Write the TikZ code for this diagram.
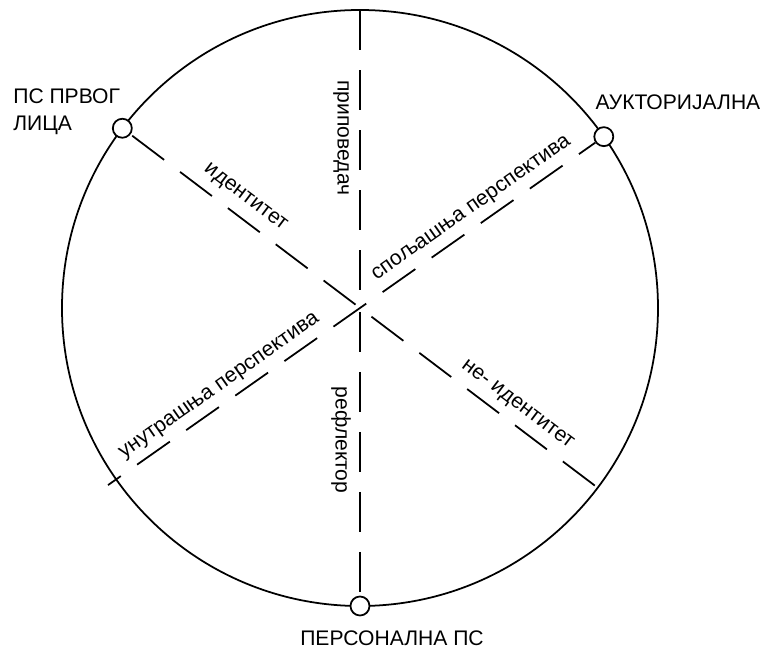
\documentclass[tikz,border=0pt]{standalone}
\usepackage{fontspec}
\setmainfont{Liberation Sans}
\tikzset{
  tk rim/.style={draw=black, line width=1pt},
  tk axis/.style={draw=black, line width=1pt, dash pattern=on 0.8cm off 0.4cm},
  tk point/.style={circle, draw=black, fill=white, line width=1pt, minimum size=3.8mm, inner sep=0pt},
  tk label/.style={font=\fontsize{12}{15.4}\selectfont, text=black, inner sep=0pt},
}

\begin{document}
\begin{tikzpicture}[
  side/.style={tk label, anchor=center},
  pole/.style={tk label, anchor=base}
]
  \useasboundingbox (-7.2,-6.8) rectangle (8.12,6.16);

  \coordinate (c) at (0,0);
  \coordinate (top) at (90:5.96);
  \coordinate (q1) at (-37.1:5.96);
  \coordinate (q2) at (215.1:6.16);

  \draw[tk rim] (c) circle (5.96);

  \node[tk point] (first) at (142.9:5.96) {};
  \node[tk point] (auct) at (35.1:5.96) {};
  \node[tk point] (pers) at (270:5.96) {};

  % the three axes
  \draw[tk axis, dash phase=0.84cm] (c) -- (top);
  \draw[tk axis, dash phase=1.12cm] (c) -- (pers);
  \draw[tk axis, dash phase=1.16cm] (first) -- (q1);
  \draw[tk axis, dash phase=0.4cm] (auct) -- (q2);

  \node[side, rotate=-90] (narr) at (-0.38,3.40) {приповедач};
  \node[side, rotate=-90] (refl) at (-0.38,-2.64) {рефлектор};
  \node[side, rotate=-37.1] (ident) at (-2.30,2.20) {идентитет};
  \node[side, rotate=-37.1] (nonident) at (3.14,-1.94) {не- идентитет};
  \node[side, rotate=35.1] (outer) at (2.24,1.98) {спољашња перспектива};
  \node[side, rotate=35.1] (inner) at (-2.80,-1.58) {унутрашња перспектива};

  \node[tk label, align=left, anchor=north west] (firstlbl) at (-6.94,4.40) {ПС ПРВОГ\\ЛИЦА};
  \node[pole] (auctlbl) at (6.36,3.96) {АУКТОРИЈАЛНА};
  \node[pole] (perslbl) at (0.64,-6.74) {ПЕРСОНАЛНА ПС};
\end{tikzpicture}
\end{document}
